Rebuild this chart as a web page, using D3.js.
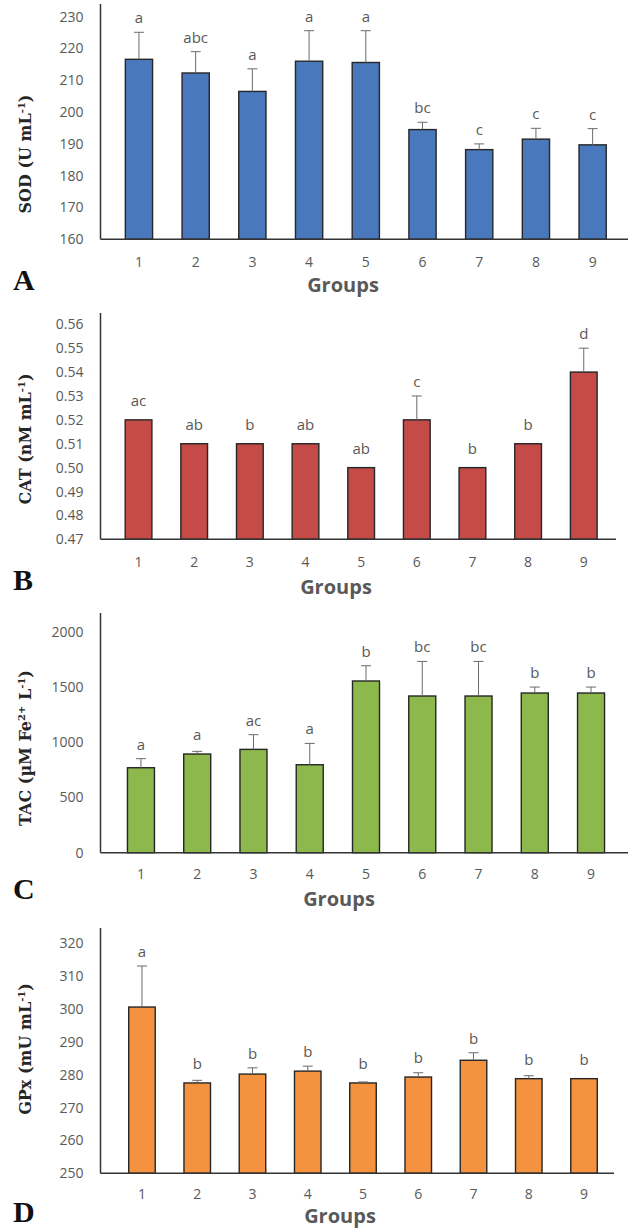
<!DOCTYPE html>
<html>
<head>
<meta charset="utf-8">
<script src="https://cdn.jsdelivr.net/npm/d3@7"></script>
<style>
  html, body { margin: 0; padding: 0; background: #fff; }
  svg { display: block; }
</style>
</head>
<body>
<svg id="chart" width="633" height="1230"></svg>
<script>
// ---------- DATA ----------
const groups = ["1", "2", "3", "4", "5", "6", "7", "8", "9"];

const sodMean    = [216.6, 212.3, 206.5, 216.0, 215.6, 194.5, 188.2, 191.5, 189.7];
const sodErr     = [8.5, 6.7, 7.1, 9.6, 10.0, 2.3, 1.8, 3.4, 5.1];
const sodLetters = ["a", "abc", "a", "a", "a", "bc", "c", "c", "c"];
const sodTicks   = [160, 170, 180, 190, 200, 210, 220, 230];

const catMean    = [0.52, 0.51, 0.51, 0.51, 0.50, 0.52, 0.50, 0.51, 0.54];
const catErr     = [0, 0, 0, 0, 0, 0.01, 0, 0, 0.01];
const catLetters = ["ac", "ab", "b", "ab", "ab", "c", "b", "b", "d"];
const catTicks   = [0.47, 0.48, 0.49, 0.50, 0.51, 0.52, 0.53, 0.54, 0.55, 0.56];

const tacMean    = [769, 893, 935, 796, 1554, 1418, 1418, 1445, 1445];
const tacErr     = [82, 24, 133, 193, 138, 313, 313, 54, 54];
const tacLetters = ["a", "a", "ac", "a", "b", "bc", "bc", "b", "b"];
const tacTicks   = [0, 500, 1000, 1500, 2000];

const gpxMean    = [300.6, 277.5, 280.2, 281.1, 277.5, 279.3, 284.4, 278.8, 278.8];
const gpxErr     = [12.5, 0.8, 1.9, 1.5, 0.3, 1.3, 2.3, 0.9, 0];
const gpxLetters = ["a", "b", "b", "b", "b", "b", "b", "b", "b"];
const gpxTicks   = [250, 260, 270, 280, 290, 300, 310, 320];

const xTitle = "Groups";

// ---------- LAYOUT / STYLE ----------
const panels = [
  { letter: "A", mean: sodMean, err: sodErr, letters: sodLetters, ticks: sodTicks, fmt: d3.format("d"),
    color: "#4a78bd", title: [["SOD (U mL", 0], ["-1", 1], [")", 0]],
    bottom: 239.3, tickTop: 16.7, axisTop: 4, xr: [100.4, 631.2], axisRight: 628,
    tickY: 262, groupsX: 343, groupsBase: 292, letterBase: 290, titleY: 154 },
  { letter: "B", mean: catMean, err: catErr, letters: catLetters, ticks: catTicks, fmt: d3.format(".2f"),
    color: "#c44b47", title: [["CAT (nM mL", 0], ["-1", 1], [")", 0]],
    bottom: 539.3, tickTop: 324.3, axisTop: 313, xr: [100.7, 621.6], axisRight: 616,
    tickY: 562, groupsX: 336, groupsBase: 594, letterBase: 590, titleY: 439 },
  { letter: "C", mean: tacMean, err: tacErr, letters: tacLetters, ticks: tacTicks, fmt: d3.format("d"),
    color: "#8db84b", title: [["TAC (µM Fe", 0], ["2+", 1], [" L", 0], ["-1", 1], [")", 0]],
    bottom: 852.7, tickTop: 631.7, axisTop: 613, xr: [102.7, 629.3], axisRight: 628,
    tickY: 874, groupsX: 339, groupsBase: 906, letterBase: 899, titleY: 748 },
  { letter: "D", mean: gpxMean, err: gpxErr, letters: gpxLetters, ticks: gpxTicks, fmt: d3.format("d"),
    color: "#f5923f", title: [["GPx (mU mL", 0], ["-1", 1], [")", 0]],
    bottom: 1173.3, tickTop: 943.3, axisTop: 928, xr: [104.4, 621.6], axisRight: 614,
    tickY: 1194, groupsX: 340, groupsBase: 1223, letterBase: 1222, titleY: 1049 }
];

const sansFont = "'Open Sans', 'Liberation Sans', sans-serif";
const serifFont = "'DejaVu Serif', 'Liberation Serif', serif";
const grey = "#595959";
const axisAx = 100.5;

const svg = d3.select("#chart");

panels.forEach(p => {
  const g = svg.append("g");
  const x = d3.scaleBand().domain(groups).range(p.xr).paddingInner(0.52).paddingOuter(0.44);
  const y = d3.scaleLinear()
    .domain([p.ticks[0], p.ticks[p.ticks.length - 1]])
    .range([p.bottom, p.tickTop]);

  // y axis tick labels
  const ya = g.append("g")
    .attr("transform", `translate(${axisAx},0)`)
    .call(d3.axisLeft(y).tickValues(p.ticks).tickFormat(p.fmt).tickSize(0).tickPadding(17));
  ya.select(".domain").remove();
  ya.selectAll("text")
    .attr("font-family", sansFont)
    .attr("font-size", 14)
    .attr("fill", grey);

  // x axis tick labels
  const xa = g.append("g")
    .attr("transform", `translate(0,${p.bottom})`)
    .call(d3.axisBottom(x).tickSize(0).tickPadding(0));
  xa.select(".domain").remove();
  xa.selectAll("text")
    .attr("y", p.tickY - p.bottom)
    .attr("dy", "0.35em")
    .attr("font-family", sansFont)
    .attr("font-size", 14)
    .attr("fill", grey);

  const data = groups.map((k, i) => ({ k, v: p.mean[i], e: p.err[i], lab: p.letters[i] }));

  // bars
  g.selectAll("rect.bar").data(data).join("rect")
    .attr("class", "bar")
    .attr("x", d => x(d.k))
    .attr("width", x.bandwidth())
    .attr("y", d => y(d.v))
    .attr("height", d => p.bottom - y(d.v))
    .attr("fill", p.color)
    .attr("stroke", "#262626")
    .attr("stroke-width", 1.4);

  // error bars (upper only)
  const eb = g.selectAll("g.err").data(data.filter(d => d.e > 0)).join("g").attr("class", "err");
  eb.append("line")
    .attr("x1", d => x(d.k) + x.bandwidth() / 2)
    .attr("x2", d => x(d.k) + x.bandwidth() / 2)
    .attr("y1", d => y(d.v))
    .attr("y2", d => y(d.v + d.e))
    .attr("stroke", "#6b6b6b").attr("stroke-width", 1);
  eb.append("line")
    .attr("x1", d => x(d.k) + x.bandwidth() / 2 - 5)
    .attr("x2", d => x(d.k) + x.bandwidth() / 2 + 5)
    .attr("y1", d => y(d.v + d.e))
    .attr("y2", d => y(d.v + d.e))
    .attr("stroke", "#6b6b6b").attr("stroke-width", 1);

  // significance letters
  g.selectAll("text.sig").data(data).join("text")
    .attr("class", "sig")
    .attr("x", d => x(d.k) + x.bandwidth() / 2)
    .attr("y", d => Math.min(y(d.v) - 19, y(d.v + d.e) - 14) + 5)
    .attr("text-anchor", "middle")
    .attr("font-family", sansFont)
    .attr("font-size", 15)
    .attr("fill", grey)
    .text(d => d.lab);

  // axis lines
  g.append("line")
    .attr("x1", axisAx).attr("x2", axisAx)
    .attr("y1", p.axisTop).attr("y2", p.bottom)
    .attr("stroke", "#333").attr("stroke-width", 1.5);
  g.append("line")
    .attr("x1", axisAx).attr("x2", p.axisRight)
    .attr("y1", p.bottom).attr("y2", p.bottom)
    .attr("stroke", "#333").attr("stroke-width", 1.5);

  // x title
  g.append("text")
    .attr("x", p.groupsX).attr("y", p.groupsBase)
    .attr("text-anchor", "middle")
    .attr("font-family", sansFont)
    .attr("font-weight", "bold")
    .attr("font-size", 20)
    .attr("fill", grey)
    .text(xTitle);

  // y title (rotated)
  const t = g.append("text")
    .attr("transform", `translate(31,${p.titleY}) rotate(-90)`)
    .attr("text-anchor", "middle")
    .attr("font-family", serifFont)
    .attr("font-weight", "bold")
    .attr("font-size", 16)
    .attr("fill", "#262626");
  p.title.forEach(([s, sup], i) => {
    const prevSup = i > 0 ? p.title[i - 1][1] : 0;
    const dy = sup && !prevSup ? -6 : (!sup && prevSup ? 6 : 0);
    t.append("tspan")
      .attr("dy", dy)
      .attr("font-size", sup ? 10 : 16)
      .text(s);
  });

  // panel letter
  g.append("text")
    .attr("x", 13).attr("y", p.letterBase)
    .attr("font-family", "'Liberation Serif', serif")
    .attr("font-weight", "bold")
    .attr("font-size", 30)
    .attr("fill", "#111")
    .text(p.letter);
});
</script>
</body>
</html>
